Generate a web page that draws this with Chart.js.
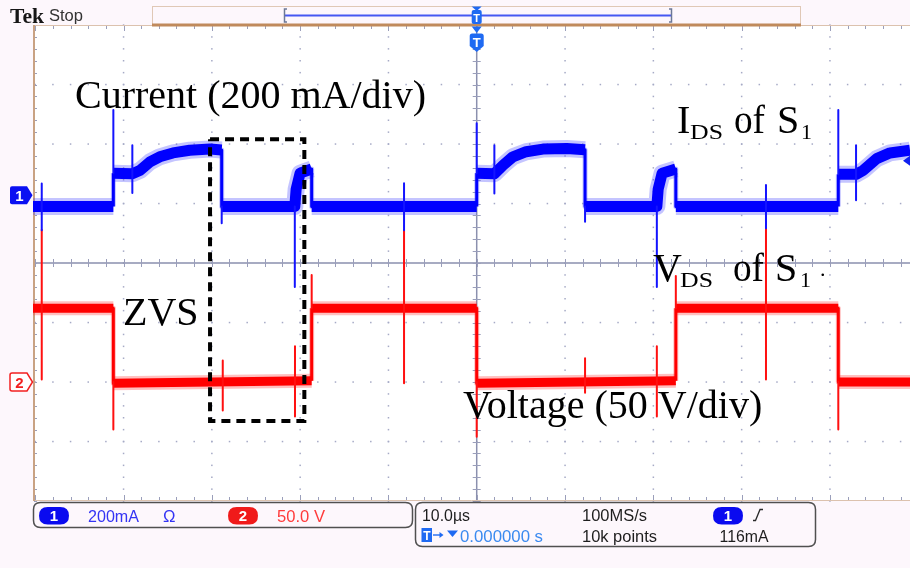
<!DOCTYPE html>
<html>
<head>
<meta charset="utf-8">
<script src="https://cdn.jsdelivr.net/npm/chart.js@4"></script>
<style>
  html, body { margin: 0; padding: 0; background: #fdf7fc; }
  canvas { display: block; }
</style>
</head>
<body>
<canvas id="scope" width="910" height="568"></canvas>
<script>
// ---------- Channel 1: drain current I_DS of S1 (mA) vs time (µs) ----------
const currentTime  = [-50.25, -41.15, -41.15, -39.0, -38.1, -37.0, -35.9, -34.4, -32.5, -30.2, -28.88, -28.88,
                      -20.6, -20.45, -20.0, -18.69, -18.69,
                      0, 0, 2.0, 3.0, 4.1, 5.6, 7.5, 10.2, 12.27, 12.27,
                      20.4, 20.55, 21.0, 22.55, 22.55,
                      40.95, 40.95, 42.96, 43.8, 45.3, 46.8, 49.07];
const currentValue = [-38, -38, 74, 72, 84, 112, 129, 142, 151, 155, 152, -38,
                      -38, 20, 74, 88, -38,
                      -38, 74, 72, 101, 129, 146, 155, 157, 153, -38,
                      -38, 20, 74, 88, -38,
                      -38, 70, 70, 84, 123, 142, 151];
// switching transients on channel 1 (time, peak high, peak low)
const currentSpikeTime = [-49.26, -41.15, -39.0, -28.88, -20.6, -8.23, 0, 2.0, 12.27, 20.4, 32.76, 40.95, 42.96];
const currentSpikeHigh = [39, 286, 168, -38, -38, 40, 242, 168, -38, -38, 34, 286, 168];
const currentSpikeLow  = [-118, 74, 7, -94, -309, -118, 74, 6, -89, -309, -111, 70, -17];

// ---------- Channel 2: drain-source voltage V_DS of S1 (V) vs time (µs) ----------
const voltageTime  = [-50.25, -41.15, -41.15, -18.69, -18.69, 0, 0, 22.55, 22.55, 40.95, 40.95, 49.07];
const voltageValue = [62, 62, -1, 1, 62, 62, -1, 1, 62, 62, 0, 0];
const voltageSpikeTime = [-49.26, -41.15, -28.76, -20.58, -18.69, -8.23, 0, 12.27, 20.4, 22.55, 32.76, 40.95];
const voltageSpikeHigh = [128, 0, 18, 30, 90, 128, 0, 20, 30, 89, 129, 0];
const voltageSpikeLow  = [2, -40, -24, -29, 62, -1, -46, -9, -29, 62, 2, -40];

// ---------- Acquisition settings ----------
const CH1_SCALE = 200;     // mA/div
const CH2_SCALE = 50;      // V/div
const CH1_POSITION = 1.14; // div
const CH2_POSITION = -2.0; // div
const TRIGGER_LEVEL = 116; // mA
const TIME_MIN = -50.25, TIME_MAX = 49.07; // µs shown (10 µs/div)

// ZVS window highlighted on the traces (µs, div)
const zvsWindow = { start: -30.2, end: -19.52, top: 2.08, bottom: -2.655 };

const ch1 = v => v / CH1_SCALE + CH1_POSITION;
const ch2 = v => v / CH2_SCALE + CH2_POSITION;

function tracePoints(ts, vs, conv) {
  return ts.map((t, i) => ({ x: t, y: conv(vs[i]) }));
}
function spikePoints(ts, hi, lo, conv) {
  const out = [];
  ts.forEach((t, i) => {
    out.push({ x: t, y: conv(hi[i]) }, { x: t, y: conv(lo[i]) }, { x: t, y: null });
  });
  return out;
}
// thick noisy band on flat parts, thin stroke on switching edges
const bandWidth = (thick, thin) => c => (c.p0.parsed.x === c.p1.parsed.x ? thin : thick);

const lineBase = { pointRadius: 0, fill: false, tension: 0, spanGaps: false,
                   borderCapStyle: 'butt', borderJoinStyle: 'round' };

const datasets = [
  Object.assign({}, lineBase, {
    label: 'ZVS',
    data: [
      { x: zvsWindow.start, y: zvsWindow.top }, { x: zvsWindow.end, y: zvsWindow.top },
      { x: zvsWindow.end, y: zvsWindow.bottom }, { x: zvsWindow.start, y: zvsWindow.bottom },
      { x: zvsWindow.start, y: zvsWindow.top }
    ],
    borderColor: '#000', borderWidth: 4, borderDash: [9, 6], borderJoinStyle: 'miter'
  }),
  Object.assign({}, lineBase, {
    label: 'I spikes',
    data: spikePoints(currentSpikeTime, currentSpikeHigh, currentSpikeLow, ch1),
    borderColor: '#1414ff', borderWidth: 2
  }),
  Object.assign({}, lineBase, {
    label: 'I_DS',
    data: tracePoints(currentTime, currentValue, ch1),
    borderColor: '#0000ff', borderWidth: 11,
    segment: { borderWidth: bandWidth(11, 3) }
  }),
  Object.assign({}, lineBase, {
    label: 'I_DS noise',
    data: tracePoints(currentTime, currentValue, ch1),
    borderColor: 'rgba(70,70,255,0.32)', borderWidth: 17,
    segment: { borderWidth: bandWidth(17, 5) }
  }),
  Object.assign({}, lineBase, {
    label: 'V spikes',
    data: spikePoints(voltageSpikeTime, voltageSpikeHigh, voltageSpikeLow, ch2),
    borderColor: '#ff1010', borderWidth: 2
  }),
  Object.assign({}, lineBase, {
    label: 'V_DS',
    data: tracePoints(voltageTime, voltageValue, ch2),
    borderColor: '#ff0000', borderWidth: 9,
    segment: { borderWidth: bandWidth(9, 3) }
  }),
  Object.assign({}, lineBase, {
    label: 'V_DS noise',
    data: tracePoints(voltageTime, voltageValue, ch2),
    borderColor: 'rgba(255,60,60,0.32)', borderWidth: 14,
    segment: { borderWidth: bandWidth(14, 5) }
  })
];

// ---------- Graticule (10 x 8 divisions) ----------
const graticule = {
  id: 'graticule',
  beforeDatasetsDraw(chart) {
    const { ctx, chartArea: a, scales: { x, y } } = chart;
    ctx.save();
    ctx.fillStyle = '#ffffff';
    ctx.fillRect(a.left, a.top, a.right - a.left, a.bottom - a.top);

    const dot = '#a6aac6';
    ctx.fillStyle = dot;
    // dotted vertical divisions
    for (let k = -4; k <= 4; k++) {
      if (k === 0) continue;
      const px = x.getPixelForValue(k * 10);
      for (let j = -20; j <= 20; j++) {
        const py = y.getPixelForValue(j / 5);
        ctx.fillRect(px - 0.7, py - 0.7, 1.5, 1.5);
      }
    }
    // dotted horizontal divisions
    for (let k = -3; k <= 3; k++) {
      if (k === 0) continue;
      const py = y.getPixelForValue(k);
      for (let j = -25; j <= 25; j++) {
        const px = x.getPixelForValue(j * 2);
        if (px < a.left + 2 || px > a.right) continue;
        ctx.fillRect(px - 0.7, py - 0.7, 1.5, 1.5);
      }
    }
    // center cross with minor ticks
    const cx = x.getPixelForValue(0), cy = y.getPixelForValue(0);
    ctx.strokeStyle = '#8b90ae';
    ctx.lineWidth = 1.5;
    ctx.beginPath();
    ctx.moveTo(a.left, cy); ctx.lineTo(a.right, cy);
    ctx.moveTo(cx, a.top); ctx.lineTo(cx, a.bottom);
    ctx.stroke();
    ctx.lineWidth = 1;
    ctx.strokeStyle = '#9a9eba';
    ctx.beginPath();
    for (let j = -25; j <= 25; j++) {
      const px = Math.round(x.getPixelForValue(j * 2)) + 0.5;
      if (px < a.left + 2 || px > a.right) continue;
      ctx.moveTo(px, cy - 4); ctx.lineTo(px, cy + 4);
      ctx.moveTo(px, a.top); ctx.lineTo(px, a.top + (j % 5 === 0 ? 6 : 4));
      ctx.moveTo(px, a.bottom); ctx.lineTo(px, a.bottom - (j % 5 === 0 ? 6 : 4));
    }
    for (let j = -20; j <= 20; j++) {
      const py = Math.round(y.getPixelForValue(j / 5)) + 0.5;
      ctx.moveTo(cx - 4, py); ctx.lineTo(cx + 4, py);
      ctx.moveTo(a.left + 1, py); ctx.lineTo(a.left + 4, py);
    }
    ctx.stroke();

    // frame
    ctx.strokeStyle = '#dcc2ae';
    ctx.lineWidth = 1;
    ctx.beginPath();
    ctx.moveTo(a.left, a.top + 0.5); ctx.lineTo(a.right, a.top + 0.5);
    ctx.moveTo(a.left, a.bottom - 0.5); ctx.lineTo(a.right, a.bottom - 0.5);
    ctx.stroke();
    ctx.strokeStyle = '#c9a283';
    ctx.lineWidth = 2;
    ctx.beginPath();
    ctx.moveTo(a.left + 1, a.top); ctx.lineTo(a.left + 1, a.bottom);
    ctx.stroke();
    ctx.restore();
  }
};

function roundRect(ctx, x, y, w, h, r) {
  ctx.beginPath();
  ctx.moveTo(x + r, y);
  ctx.lineTo(x + w - r, y); ctx.quadraticCurveTo(x + w, y, x + w, y + r);
  ctx.lineTo(x + w, y + h - r); ctx.quadraticCurveTo(x + w, y + h, x + w - r, y + h);
  ctx.lineTo(x + r, y + h); ctx.quadraticCurveTo(x, y + h, x, y + h - r);
  ctx.lineTo(x, y + r); ctx.quadraticCurveTo(x, y, x + r, y);
  ctx.closePath();
}
// text scaled to a given width (narrow readout face, wide subscripts)
function fitText(ctx, str, x, base, w, font, color) {
  ctx.font = font;
  ctx.fillStyle = color;
  const m = ctx.measureText(str).width;
  ctx.save();
  ctx.translate(x, base);
  ctx.scale(w / m, 1);
  ctx.fillText(str, 0, 0);
  ctx.restore();
}
function pill(ctx, x, y, w, h, color, label) {
  roundRect(ctx, x, y, w, h, h / 2);
  ctx.fillStyle = color;
  ctx.fill();
  ctx.fillStyle = '#fff';
  ctx.font = 'bold 15px "Liberation Sans", sans-serif';
  ctx.textAlign = 'center';
  ctx.fillText(label, x + w / 2, y + h - 3.5);
  ctx.textAlign = 'left';
}

// ---------- Scope chrome and annotations ----------
const overlay = {
  id: 'overlay',
  afterDraw(chart) {
    const { ctx, chartArea: a, scales: { x, y } } = chart;
    ctx.save();
    const serif = '"Liberation Serif", "Times New Roman", serif';
    const sans = '"Liberation Sans", Arial, sans-serif';
    const cx = x.getPixelForValue(0);

    // status line
    fitText(ctx, 'Tek', 10, 22.5, 34, 'bold 22px ' + serif, '#161616');
    fitText(ctx, 'Stop', 49, 21, 34, '16px ' + sans, '#333');

    // record view bar
    ctx.fillStyle = '#fdf7fc';
    ctx.fillRect(152, 6, 649, 18);
    ctx.strokeStyle = '#e0c8b6';
    ctx.lineWidth = 1;
    ctx.strokeRect(152.5, 6.5, 648, 18);
    ctx.fillStyle = '#c08a5c';
    ctx.fillRect(152, 23.5, 649, 3);
    ctx.strokeStyle = '#4658f2';
    ctx.lineWidth = 2;
    ctx.beginPath(); ctx.moveTo(285, 15.5); ctx.lineTo(671, 15.5); ctx.stroke();
    ctx.strokeStyle = '#6c7896';
    ctx.lineWidth = 1.5;
    ctx.beginPath();
    ctx.moveTo(287, 9); ctx.lineTo(284.5, 9); ctx.lineTo(284.5, 22); ctx.lineTo(287, 22);
    ctx.moveTo(669, 9); ctx.lineTo(671.5, 9); ctx.lineTo(671.5, 22); ctx.lineTo(669, 22);
    ctx.stroke();
    const tBlue = '#1f6af2';
    ctx.fillStyle = tBlue;
    ctx.beginPath(); ctx.moveTo(cx - 5, 6.5); ctx.lineTo(cx + 5, 6.5); ctx.lineTo(cx, 11); ctx.closePath(); ctx.fill();
    roundRect(ctx, cx - 5, 10, 10, 14, 2); ctx.fill();
    ctx.fillStyle = '#fff';
    ctx.font = 'bold 11px ' + sans; ctx.textAlign = 'center';
    ctx.fillText('T', cx, 21.5);

    // trigger position marker
    ctx.fillStyle = tBlue;
    ctx.beginPath(); ctx.moveTo(cx - 5, 26.5); ctx.lineTo(cx + 5, 26.5); ctx.lineTo(cx, 33); ctx.closePath(); ctx.fill();
    ctx.beginPath();
    ctx.moveTo(cx - 7, 36); ctx.quadraticCurveTo(cx - 7, 33.5, cx - 4.5, 33.5);
    ctx.lineTo(cx + 4.5, 33.5); ctx.quadraticCurveTo(cx + 7, 33.5, cx + 7, 36);
    ctx.lineTo(cx + 7, 46); ctx.lineTo(cx, 52); ctx.lineTo(cx - 7, 46); ctx.closePath();
    ctx.fill();
    ctx.fillStyle = '#fff';
    ctx.font = 'bold 13px ' + sans;
    ctx.fillText('T', cx, 47);
    ctx.textAlign = 'left';

    // channel ground markers
    const g1 = y.getPixelForValue(ch1(0)), g2 = y.getPixelForValue(ch2(0));
    function tag(py, fill, stroke, label, txt) {
      ctx.beginPath();
      ctx.moveTo(12, py - 9); ctx.lineTo(27, py - 9); ctx.lineTo(32.5, py);
      ctx.lineTo(27, py + 9); ctx.lineTo(12, py + 9);
      ctx.quadraticCurveTo(10, py + 9, 10, py + 7); ctx.lineTo(10, py - 7);
      ctx.quadraticCurveTo(10, py - 9, 12, py - 9); ctx.closePath();
      if (fill) { ctx.fillStyle = fill; ctx.fill(); }
      if (stroke) { ctx.strokeStyle = stroke; ctx.lineWidth = 1.5; ctx.stroke(); }
      ctx.fillStyle = txt;
      ctx.font = 'bold 15px ' + sans; ctx.textAlign = 'center';
      ctx.fillText(label, 19.5, py + 5.5);
      ctx.textAlign = 'left';
    }
    tag(g1, '#0a10f2', null, '1', '#fff');
    tag(g2, '#fff', '#f22020', '2', '#f22020');

    // trigger level marker on the right edge
    const tl = y.getPixelForValue(ch1(TRIGGER_LEVEL));
    ctx.fillStyle = '#1020f0';
    ctx.beginPath(); ctx.moveTo(903, tl); ctx.lineTo(910, tl - 5); ctx.lineTo(910, tl + 5); ctx.closePath(); ctx.fill();

    // annotations
    ctx.fillStyle = '#000';
    ctx.font = '40px ' + serif;
    ctx.fillText('Current (200 mA/div)', 75, 108);
    ctx.fillText('ZVS', 123, 325);
    ctx.fillText('Voltage (50 V/div)', 463, 418);
    ctx.fillText('I', 677, 133);
    fitText(ctx, 'of', 734, 133, 31, '40px ' + serif, '#000');
    ctx.fillText('S', 777, 133);
    ctx.fillText('V', 653, 281);
    fitText(ctx, 'of', 733, 281, 31, '40px ' + serif, '#000');
    ctx.fillText('S', 775, 281);
    fitText(ctx, 'DS', 690, 138.5, 33, '22px ' + serif, '#000');
    fitText(ctx, '1', 801, 138.5, 11, '22px ' + serif, '#000');
    fitText(ctx, 'DS', 680, 286.5, 33, '22px ' + serif, '#000');
    fitText(ctx, '1', 800, 286.5, 11, '22px ' + serif, '#000');
    ctx.font = '22px ' + serif;
    ctx.fillText('.', 820, 276);

    // readout boxes
    ctx.strokeStyle = '#505050';
    ctx.lineWidth = 1.5;
    roundRect(ctx, 33.5, 502.5, 379, 25, 7); ctx.stroke();
    roundRect(ctx, 415.5, 502.5, 400, 44, 7); ctx.stroke();

    const ro = '17px ' + sans, ro2 = '16px ' + sans;
    pill(ctx, 39, 507, 30, 17.5, '#0a0af0', '1');
    fitText(ctx, '200mA', 88, 521.5, 51, ro, '#3434f4');
    fitText(ctx, 'Ω', 163, 521.5, 12.5, ro, '#3434f4');
    pill(ctx, 228, 507, 30, 17.5, '#f01a1a', '2');
    fitText(ctx, '50.0 V', 277, 521.5, 48, ro, '#ff3b3b');

    fitText(ctx, '10.0µs', 422, 521, 48, ro2, '#1e1e1e');
    fitText(ctx, '100MS/s', 582, 521, 65, ro2, '#1e1e1e');
    pill(ctx, 713, 507, 30, 17.5, '#0a0af0', '1');
    ctx.strokeStyle = '#2a2a2a'; ctx.lineWidth = 1.3;
    ctx.beginPath(); ctx.moveTo(753, 520.5); ctx.lineTo(755.5, 520.5); ctx.lineTo(760, 509.5); ctx.lineTo(763, 509.5); ctx.stroke();

    ctx.fillStyle = tBlue;
    ctx.fillRect(421.5, 528, 10.5, 14);
    ctx.fillStyle = '#fff';
    ctx.font = 'bold 12px ' + sans; ctx.textAlign = 'center';
    ctx.fillText('T', 426.8, 540);
    ctx.textAlign = 'left';
    ctx.strokeStyle = tBlue; ctx.lineWidth = 1.4;
    ctx.beginPath(); ctx.moveTo(433, 535); ctx.lineTo(441, 535); ctx.stroke();
    ctx.fillStyle = tBlue;
    ctx.beginPath(); ctx.moveTo(443.5, 535); ctx.lineTo(439.5, 532); ctx.lineTo(439.5, 538); ctx.closePath(); ctx.fill();
    ctx.beginPath(); ctx.moveTo(447, 530.5); ctx.lineTo(458, 530.5); ctx.lineTo(452.5, 537); ctx.closePath(); ctx.fill();
    fitText(ctx, '0.000000 s', 460, 541.5, 83, ro2, '#3a8af0');
    fitText(ctx, '10k points', 582, 541.5, 75, ro2, '#1e1e1e');
    fitText(ctx, '116mA', 719.5, 541.5, 49, ro2, '#1e1e1e');
    ctx.restore();
  }
};

new Chart(document.getElementById('scope'), {
  type: 'line',
  data: { datasets },
  options: {
    responsive: false,
    animation: false,
    devicePixelRatio: 1,
    layout: { padding: { left: 33, top: 25, right: 0, bottom: 67 } },
    scales: {
      x: { type: 'linear', min: TIME_MIN, max: TIME_MAX, display: false },
      y: { type: 'linear', min: -4, max: 4, display: false }
    },
    plugins: { legend: { display: false }, tooltip: { enabled: false } },
    events: []
  },
  plugins: [graticule, overlay]
});
</script>
</body>
</html>
